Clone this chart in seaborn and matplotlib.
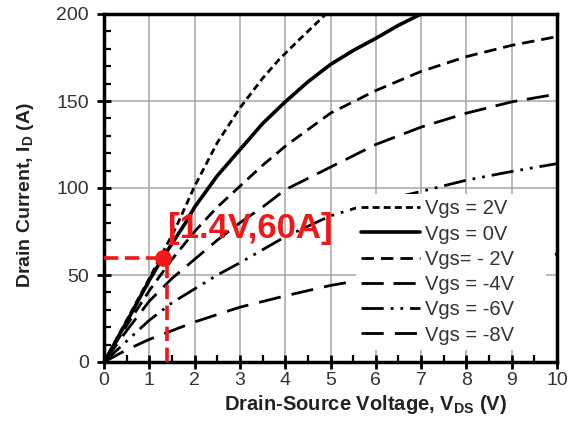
import numpy as np
import pandas as pd
import matplotlib
matplotlib.use("Agg")
import matplotlib.pyplot as plt
import seaborn as sns
from matplotlib.ticker import MultipleLocator
from matplotlib.lines import Line2D

# ---- data ----
vgs_p2_v = [0, 0.5, 1, 1.6, 2.0, 2.5, 3.0, 3.5, 3.87, 4.3, 4.9]
vgs_p2_i = [0, 24, 48, 78, 101, 126, 146, 163, 174, 185, 200]

vgs_0_v = [0, 0.5, 1, 1.3, 1.8, 2.0, 2.5, 3.0, 3.5, 4.0, 4.5, 5.0, 5.5, 6.0, 6.5, 7.0]
vgs_0_i = [0, 23, 47, 60, 80, 89, 107, 122, 137, 149.5, 161, 171, 179, 186, 193.5, 200]

vgs_m2_v = [0, 0.5, 1, 1.5, 2, 2.5, 3, 3.5, 4, 5, 6, 7, 8, 9, 10]
vgs_m2_i = [0, 21, 41, 59, 75, 89, 101, 113, 124, 143, 156, 167, 175.5, 182, 187]

vgs_m4_v = [0, 0.5, 1, 1.5, 2, 2.5, 3, 3.5, 4, 5, 6, 7, 8, 9, 10]
vgs_m4_i = [0, 18, 35, 48, 59, 70, 80, 89, 99, 112, 125, 135, 143, 149.5, 154]

vgs_m6_v = [0, 0.5, 1, 1.5, 2, 2.5, 3, 4, 5, 6, 7, 8, 9, 10]
vgs_m6_i = [0, 12, 24, 34, 42, 50, 57, 72, 84, 92, 98, 104.5, 109.5, 114]

vgs_m8_v = [0, 0.5, 1, 1.5, 2, 3, 4, 5, 6, 7, 8, 9, 10]
vgs_m8_i = [0, 7, 13, 18, 23, 31.5, 38, 44, 48.5, 52.5, 56, 59, 62]

series_labels = ["Vgs = 2V", "Vgs = 0V", "Vgs= - 2V", "Vgs = -4V", "Vgs = -6V", "Vgs = -8V"]
series_v = [vgs_p2_v, vgs_0_v, vgs_m2_v, vgs_m4_v, vgs_m6_v, vgs_m8_v]
series_i = [vgs_p2_i, vgs_0_i, vgs_m2_i, vgs_m4_i, vgs_m6_i, vgs_m8_i]

point_v = 1.3
point_i = 60
vline_v = 1.38
note_text = "[1.4V,60A]"
note_v = 1.42
note_i = 77

x_ticks = list(range(0, 11))
y_ticks = [0, 50, 100, 150, 200]

# ---- styling ----
sns.set_theme(style="white")
plt.rcParams['font.family'] = ['Liberation Sans', 'DejaVu Sans']
plt.rcParams['mathtext.fontset'] = 'custom'
plt.rcParams['mathtext.rm'] = 'Liberation Sans'
plt.rcParams['mathtext.bf'] = 'Liberation Sans:bold'

dash_styles = {
    "Vgs = 2V": (2.5, 1.5),
    "Vgs = 0V": "",
    "Vgs= - 2V": (4.5, 2.5),
    "Vgs = -4V": (8, 3.5),
    "Vgs = -6V": (8, 2.5, 1, 2.5, 1, 2.5),
    "Vgs = -8V": (8, 4),
}

frames = []
for lab, v, i in zip(series_labels, series_v, series_i):
    frames.append(pd.DataFrame({"V": v, "I": i, "Vgs": lab}))
df = pd.concat(frames, ignore_index=True)

fig = plt.figure(figsize=(5.87, 4.26), dpi=100)
ax = fig.add_axes([104/587, 64/426, 453/587, 348/426])

ax.grid(True, which='major', color='#a6a6a6', linewidth=1.1)
ax.set_axisbelow(True)

sns.lineplot(data=df, x="V", y="I", hue="Vgs", style="Vgs",
             hue_order=series_labels, style_order=series_labels,
             palette=["black"] * 6, dashes=dash_styles,
             estimator=None, sort=False, linewidth=2.0, ax=ax, legend=False)
for ln in ax.get_lines():
    if ln.get_linestyle() == '-':
        ln.set_linewidth(2.6)

red = '#f01818'
ax.plot([0, point_v], [point_i, point_i], color=red, lw=2.6, dashes=(4, 1.8), zorder=5)
ax.plot([vline_v, vline_v], [0, point_i], color=red, lw=2.6, dashes=(4, 1.8), zorder=5)
ax.plot([point_v], [point_i], 'o', color=red, markersize=11, zorder=6)
ax.text(note_v, note_i, note_text, color=red, fontsize=25, fontweight='bold',
        ha='left', va='center', zorder=7)

ax.set_xlim(0, 10)
ax.set_ylim(0, 200)
ax.set_xticks(x_ticks)
ax.set_yticks(y_ticks)
ax.xaxis.set_minor_locator(MultipleLocator(0.5))
ax.yaxis.set_minor_locator(MultipleLocator(10))
ax.tick_params(which='major', direction='inout', length=10, width=2,
               labelsize=14, colors='black', labelcolor='#333333')
ax.tick_params(axis='x', which='major', pad=2)
ax.tick_params(axis='y', which='major', pad=6)
ax.tick_params(which='minor', direction='in', length=5, width=1.6, colors='black')
ax.tick_params(bottom=True, left=True, which='both')

for sp in ax.spines.values():
    sp.set_visible(True)
    sp.set_color('black')
    sp.set_linewidth(2.5)

ax.set_xlabel(r"Drain-Source Voltage, V$_\mathbf{DS}$ (V)", fontsize=14.5,
              fontweight='bold', color='#222222')
ax.set_ylabel(r"Drain Current, I$_\mathbf{D}$ (A)", fontsize=14,
              fontweight='bold', color='#222222')
ax.xaxis.set_label_coords(0.578, -0.09)
ax.yaxis.set_label_coords(-0.15, 0.48)

handles = []
for lab in series_labels:
    d = dash_styles[lab]
    if d == "":
        h = Line2D([], [], color='black', lw=2.6, linestyle='-')
    else:
        h = Line2D([], [], color='black', lw=2.0, dashes=d)
    handles.append(h)
leg = ax.legend(handles, series_labels, loc='upper left',
                bbox_to_anchor=(0.556, 0.482, 0.42, 0.0), mode='expand',
                fontsize=14.5, frameon=True, facecolor='white', edgecolor='none',
                framealpha=1.0, handlelength=2.95, handletextpad=0.25,
                labelspacing=0.31, borderpad=0.25, borderaxespad=0.0, fancybox=False)
for t in leg.get_texts():
    t.set_color('#333333')
leg.set_zorder(4)

fig.savefig("out.png", dpi=100)
